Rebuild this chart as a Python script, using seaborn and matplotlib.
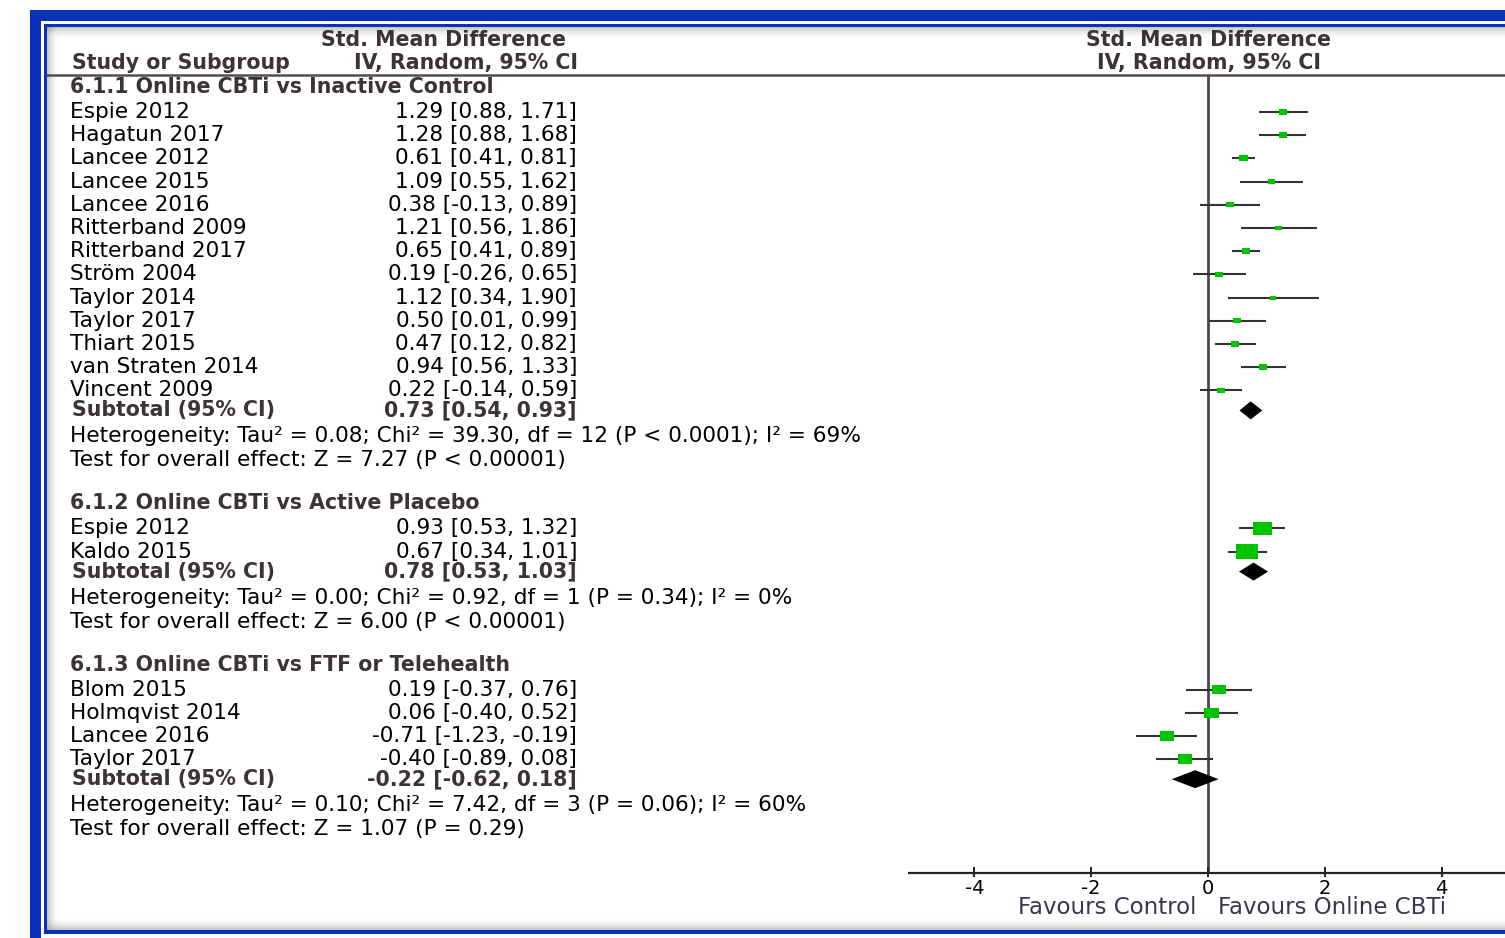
import numpy as np
import pandas as pd
import matplotlib.pyplot as plt
import seaborn as sns
from matplotlib.patches import Rectangle

# ---- data ----
sec_titles = ["6.1.1 Online CBTi vs Inactive Control",
              "6.1.2 Online CBTi vs Active Placebo",
              "6.1.3 Online CBTi vs FTF or Telehealth"]

sec1_studies = ["Espie 2012", "Hagatun 2017", "Lancee 2012", "Lancee 2015", "Lancee 2016",
                "Ritterband 2009", "Ritterband 2017", "Ström 2004", "Taylor 2014",
                "Taylor 2017", "Thiart 2015", "van Straten 2014", "Vincent 2009"]
sec1_smd = [1.29, 1.28, 0.61, 1.09, 0.38, 1.21, 0.65, 0.19, 1.12, 0.50, 0.47, 0.94, 0.22]
sec1_lo = [0.88, 0.88, 0.41, 0.55, -0.13, 0.56, 0.41, -0.26, 0.34, 0.01, 0.12, 0.56, -0.14]
sec1_hi = [1.71, 1.68, 0.81, 1.62, 0.89, 1.86, 0.89, 0.65, 1.90, 0.99, 0.82, 1.33, 0.59]
sec1_weight = [8.0, 7.2, 9.0, 6.4, 6.8, 5.2, 8.8, 6.8, 4.2, 6.6, 7.6, 7.2, 7.6]  # estimated

sec2_studies = ["Espie 2012", "Kaldo 2015"]
sec2_smd = [0.93, 0.67]
sec2_lo = [0.53, 0.34]
sec2_hi = [1.32, 1.01]
sec2_weight = [42.0, 58.0]

sec3_studies = ["Blom 2015", "Holmqvist 2014", "Lancee 2016", "Taylor 2017"]
sec3_smd = [0.19, 0.06, -0.71, -0.40]
sec3_lo = [-0.37, -0.40, -1.23, -0.89]
sec3_hi = [0.76, 0.52, -0.19, 0.08]
sec3_weight = [22.0, 25.0, 23.0, 23.0]

sub_smd = [0.73, 0.78, -0.22]
sub_lo = [0.54, 0.53, -0.62]
sub_hi = [0.93, 1.03, 0.18]

het_text = ["Heterogeneity: Tau² = 0.08; Chi² = 39.30, df = 12 (P < 0.0001); I² = 69%",
            "Heterogeneity: Tau² = 0.00; Chi² = 0.92, df = 1 (P = 0.34); I² = 0%",
            "Heterogeneity: Tau² = 0.10; Chi² = 7.42, df = 3 (P = 0.06); I² = 60%"]
test_text = ["Test for overall effect: Z = 7.27 (P < 0.00001)",
             "Test for overall effect: Z = 6.00 (P < 0.00001)",
             "Test for overall effect: Z = 1.07 (P = 0.29)"]

x_ticks = [-4, -2, 0, 2, 4]
favours = ["Favours Control", "Favours Online CBTi"]

# ---- layout (pixel rows) ----
W, H = 1505, 938
BLUE = "#0b31b9"
GREEN = "#00c400"
HEAD = "#3c3434"
FS = 15.6     # regular text
FSB = 14.8    # bold text

plt.rcParams["font.family"] = ["DejaVu Sans"]

sections = [
    (sec1_studies, sec1_smd, sec1_lo, sec1_hi, sec1_weight),
    (sec2_studies, sec2_smd, sec2_lo, sec2_hi, sec2_weight),
    (sec3_studies, sec3_smd, sec3_lo, sec3_hi, sec3_weight),
]

rows = []
y = 87
layout = []
for k, (studies, smd, lo, hi, w) in enumerate(sections):
    head_y = y
    y += 25
    study_y = []
    for i in range(len(studies)):
        study_y.append(y)
        rows.append(dict(study=studies[i], smd=smd[i], lo=lo[i], hi=hi[i], weight=w[i], y=y))
        y += 23.2
    y -= 23.2
    sub_y = y + 20
    het_y = sub_y + 26
    test_y = het_y + 24
    layout.append((head_y, study_y, sub_y, het_y, test_y))
    y = test_y + 43

df = pd.DataFrame(rows)

fig = plt.figure(figsize=(W / 100, H / 100), dpi=100)
bg = fig.add_axes([0, 0, 1, 1])
bg.set_xlim(0, W)
bg.set_ylim(H, 0)
bg.axis("off")

# blue frame
bg.add_patch(Rectangle((30, 10), W, H, color=BLUE, lw=0))
bg.add_patch(Rectangle((41, 21), W, H, color="white", lw=0))
bg.add_patch(Rectangle((44, 24), W, 910, color=BLUE, lw=0))
bg.add_patch(Rectangle((47, 27), W, 903, color="white", lw=0))
# soft shadow inside the frame
for j in range(12):
    a = 0.45 * (1 - j / 12) ** 2
    bg.add_patch(Rectangle((47, 27 + j), W, 1, color="gray", alpha=a, lw=0))
    bg.add_patch(Rectangle((47 + j, 27), 1, 903, color="gray", alpha=a, lw=0))
    bg.add_patch(Rectangle((47, 929 - j), W, 1, color="gray", alpha=a, lw=0))

# header
bg.plot([47, W], [75, 75], color="#505050", lw=1.8)
bg.text(566, 40, "Std. Mean Difference", ha="right", va="center", fontsize=FSB, fontweight="bold", color=HEAD)
bg.text(578, 63, "IV, Random, 95% CI", ha="right", va="center", fontsize=FSB, fontweight="bold", color=HEAD)
bg.text(72, 63, "Study or Subgroup", ha="left", va="center", fontsize=FSB, fontweight="bold", color=HEAD)
bg.text(1209, 40, "Std. Mean Difference", ha="center", va="center", fontsize=FSB, fontweight="bold", color=HEAD)
bg.text(1209, 63, "IV, Random, 95% CI", ha="center", va="center", fontsize=FSB, fontweight="bold", color=HEAD)

for k, (head_y, study_y, sub_y, het_y, test_y) in enumerate(layout):
    bg.text(70, head_y, sec_titles[k], ha="left", va="center", fontsize=FSB, fontweight="bold", color=HEAD)
    sdf = df[df["y"].isin(study_y)]
    for _, r in sdf.iterrows():
        bg.text(70, r["y"], r["study"], ha="left", va="center", fontsize=FS)
        bg.text(577, r["y"], f"{r['smd']:.2f} [{r['lo']:.2f}, {r['hi']:.2f}]",
                ha="right", va="center", fontsize=FS)
    bg.text(72, sub_y, "Subtotal (95% CI)", ha="left", va="center", fontsize=FSB, fontweight="bold", color=HEAD)
    bg.text(577, sub_y, f"{sub_smd[k]:.2f} [{sub_lo[k]:.2f}, {sub_hi[k]:.2f}]",
            ha="right", va="center", fontsize=FSB, fontweight="bold", color=HEAD)
    bg.text(70, het_y, het_text[k], ha="left", va="center", fontsize=FS)
    bg.text(70, test_y, test_text[k], ha="left", va="center", fontsize=FS)

# ---- forest panel ----
px_per_unit = 58.4
zero_px = 1208
x_left, x_right = 908, W
ax = fig.add_axes([x_left / W, 0, (x_right - x_left) / W, 1])
ax.patch.set_alpha(0)

axis_y = 873
ax.vlines(0, 75, axis_y, color="#4a4a4a", lw=2.0)
ax.axhline(axis_y, color="#222222", lw=1.6)
for t in x_ticks:
    ax.vlines(t, axis_y - 6, axis_y + 4, color="#222222", lw=1.4)
    ax.text(t, 888, f"{t}", ha="center", va="center", fontsize=14)
ax.text(-0.2, 908, favours[0], ha="right", va="center", fontsize=16.5, color="#3c3450")
ax.text(0.17, 908, favours[1], ha="left", va="center", fontsize=16.5, color="#3c3450")

ax.hlines(df["y"], df["lo"], df["hi"], color="#333333", lw=1.5)
rect = [(-1, -0.7), (1, -0.7), (1, 0.7), (-1, 0.7), (-1, -0.7)]
sns.scatterplot(data=df, x="smd", y="y", size="weight", sizes=(0, 255), size_norm=(0, 58),
                marker=rect, color=GREEN, edgecolor="none", legend=False, ax=ax, zorder=3)

for k, (head_y, study_y, sub_y, het_y, test_y) in enumerate(layout):
    hh = 9
    ax.fill([sub_lo[k], sub_smd[k], sub_hi[k], sub_smd[k]],
            [sub_y, sub_y - hh, sub_y, sub_y + hh], color="black", lw=0, zorder=4)

ax.set_xlim((x_left - zero_px) / px_per_unit, (x_right - zero_px) / px_per_unit)
ax.set_ylim(H, 0)
ax.axis("off")

fig.savefig("out.png", dpi=100)
